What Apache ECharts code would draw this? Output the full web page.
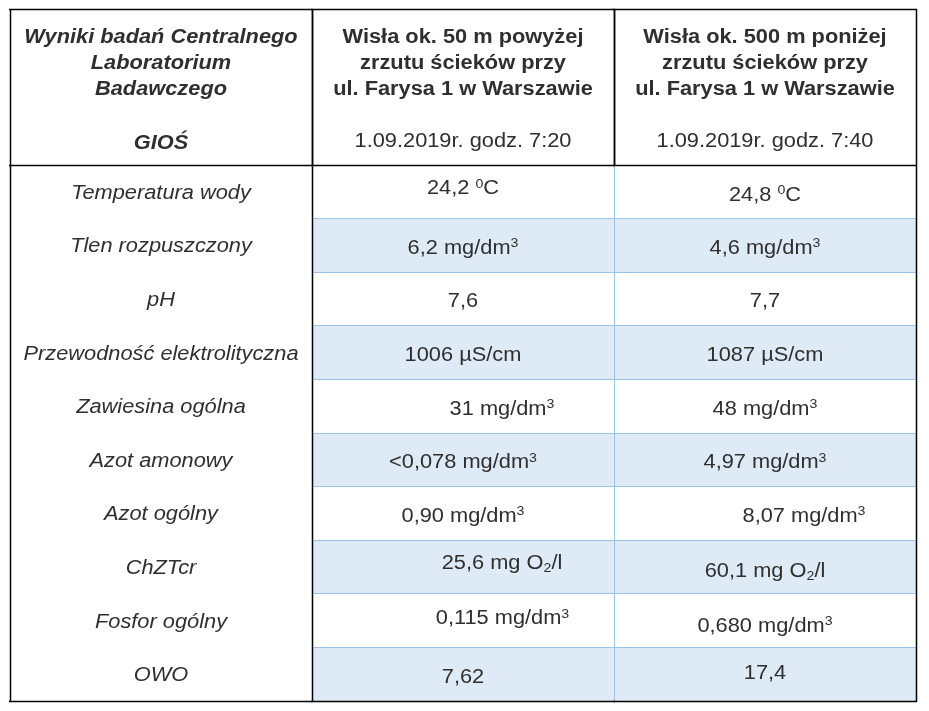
<!DOCTYPE html>
<html>
<head>
<meta charset="utf-8">
<script src="https://cdn.jsdelivr.net/npm/echarts@6.0.0/dist/echarts.min.js"></script>
<style>
html,body{margin:0;padding:0;background:#ffffff;}
#chart{width:929px;height:711px;}
</style>
</head>
<body>
<div id="chart"></div>
<script>
// ---------------- data ----------------
const columns = ['Parametr', 'Powyżej zrzutu', 'Poniżej zrzutu'];
const headerLines = [
  ['Wyniki badań Centralnego', 'Laboratorium', 'Badawczego', '', 'GIOŚ'],
  ['Wisła ok. 50 m powyżej', 'zrzutu ścieków przy', 'ul. Farysa 1 w Warszawie', '', '1.09.2019r. godz. 7:20'],
  ['Wisła ok. 500 m poniżej', 'zrzutu ścieków przy', 'ul. Farysa 1 w Warszawie', '', '1.09.2019r. godz. 7:40']
];
const parameters = ['Temperatura wody', 'Tlen rozpuszczony', 'pH', 'Przewodność elektrolityczna',
  'Zawiesina ogólna', 'Azot amonowy', 'Azot ogólny', 'ChZTcr', 'Fosfor ogólny', 'OWO'];
const units = ['degC', 'mgdm3', '', 'uScm', 'mgdm3', 'mgdm3', 'mgdm3', 'mgO2l', 'mgdm3', ''];
const upstreamValues = ['24,2', '6,2', '7,6', '1006', '31', '<0,078', '0,90', '25,6', '0,115', '7,62'];
const downstreamValues = ['24,8', '4,6', '7,7', '1087', '48', '4,97', '8,07', '60,1', '0,680', '17,4'];

// ---------------- layout / style (kept apart from data) ----------------
const upstreamNudge = [[0,-5.8],[0,0],[0,0],[0,0],[39,0],[0,0],[0,0],[39,-6],[39.5,-4.8],[0,0]];
const downstreamNudge = [[0,0.5],[0,0],[0,0],[0,0],[0,0],[0,0],[39,0],[0,2],[0,3],[0,-3.8]];
const FONT = 'Arial, "Liberation Sans", sans-serif';
const TEXT = '#2f2f2f';
const BLACK = '#000000';
const BLUE_LINE = '#9dc3e6';
const STRIPE = '#deeaf6';
const SX = 1.09;
const BLACK_W = 1.5;
const rich = {
  sup: {fontSize: 13, lineHeight: 17, verticalAlign: 'top', fontFamily: FONT, fill: TEXT},
  sub: {fontSize: 13, lineHeight: 17, verticalAlign: 'bottom', fontFamily: FONT, fill: TEXT}
};
const unitMarkup = {degC: ' {sup|0}C', mgdm3: ' mg/dm{sup|3}', uScm: ' µS/cm', mgO2l: ' mg O{sub|2}/l'};

function crisp(v) { return Math.floor(v) + 0.5; }
function seg(x1, y1, x2, y2, color, lw, z2) {
  return {type: 'line', shape: {x1: x1, y1: y1, x2: x2, y2: y2}, style: {stroke: color, lineWidth: lw}, z2: z2, silent: true};
}
function txt(x, y, text, opts) {
  return {
    type: 'text', x: x, y: y, scaleX: SX, z2: 5, silent: true,
    style: {
      text: text, x: 0, y: 0, align: 'center', verticalAlign: 'middle',
      fontFamily: FONT, fontSize: 20, lineHeight: 22,
      fontWeight: opts.bold ? 'bold' : 'normal',
      fontStyle: opts.italic ? 'italic' : 'normal',
      fill: TEXT, rich: rich
    }
  };
}
function cellBox(api, c, r) {
  const ctr = api.coord([c, r]);
  const sz = api.size([1, 1]);
  return {cx: ctr[0], cy: ctr[1], w: sz[0], h: sz[1],
    x0: ctr[0] - sz[0] / 2, x1: ctr[0] + sz[0] / 2, y0: ctr[1] - sz[1] / 2, y1: ctr[1] + sz[1] / 2};
}

function renderHeader(params, api) {
  const c = api.value(0);
  const b = cellBox(api, c, 0);
  const kids = [
    seg(b.x0 - 1, crisp(b.y0), b.x1 + 1, crisp(b.y0), BLACK, BLACK_W, 10),
    seg(b.x0 - 1, crisp(b.y1), b.x1 + 1, crisp(b.y1), BLACK, BLACK_W, 10),
    seg(crisp(b.x0), b.y0, crisp(b.x0), b.y1, BLACK, BLACK_W, 10),
    seg(crisp(b.x1), b.y0, crisp(b.x1), b.y1, BLACK, BLACK_W, 10)
  ];
  headerLines[c].forEach(function (line, i) {
    if (!line) return;
    let y = b.y0 + 28.5 + i * 26;
    if (c === 0 && i === 4) y += 1.5;
    kids.push(txt(b.cx, y, line, {bold: c === 0 || i < 3, italic: c === 0}));
  });
  return {type: 'group', children: kids};
}

function renderBody(params, api) {
  const c = api.value(0), r = api.value(1);
  const b = cellBox(api, c, r);
  const last = parameters.length - 1;
  const bodyBottom = b.y0 + b.h * (parameters.length - r);
  const kids = [];
  if (c > 0 && r % 2 === 1) {
    kids.push({type: 'rect', shape: {x: b.x0, y: b.y0, width: b.w, height: b.h}, style: {fill: STRIPE}, z2: 0, silent: true});
  }
  if (c > 0 && r < last) kids.push(seg(b.x0, crisp(b.y1), b.x1, crisp(b.y1), BLUE_LINE, 1, 1));
  if (r === 0) {
    if (c === 0) {
      kids.push(seg(crisp(b.x0), b.y0, crisp(b.x0), bodyBottom + 1, BLACK, BLACK_W, 10));
      kids.push(seg(crisp(b.x1), b.y0, crisp(b.x1), bodyBottom + 1, BLACK, BLACK_W, 10));
    }
    if (c === 1) kids.push(seg(crisp(b.x1), b.y0, crisp(b.x1), bodyBottom, BLUE_LINE, 1, 1));
    if (c === 2) kids.push(seg(crisp(b.x1), b.y0, crisp(b.x1), bodyBottom + 1, BLACK, BLACK_W, 10));
  }
  if (r === last) kids.push(seg(b.x0 - 1, crisp(b.y1), b.x1 + 1, crisp(b.y1), BLACK, BLACK_W, 10));

  if (c === 0) {
    kids.push(txt(b.cx, b.cy + 1.5, parameters[r], {italic: true}));
  } else {
    const vals = c === 1 ? upstreamValues : downstreamValues;
    const nudge = c === 1 ? upstreamNudge[r] : downstreamNudge[r];
    const text = vals[r] + (unitMarkup[units[r]] || '');
    kids.push(txt(b.cx + nudge[0], b.cy + 2.8 + nudge[1], text, {}));
  }
  return {type: 'group', children: kids};
}

const headerCells = columns.map(function (_, c) { return [c, 0]; });
const bodyCells = [];
parameters.forEach(function (_, r) { columns.forEach(function (_, c) { bodyCells.push([c, r]); }); });

const chart = echarts.init(document.getElementById('chart'), null, {renderer: 'canvas'});
chart.setOption({
  animation: false,
  backgroundColor: '#ffffff',
  grid: [
    {left: 10, right: 13, top: 9, height: 156},
    {left: 10, right: 13, top: 165, height: 536}
  ],
  xAxis: [
    {type: 'category', gridIndex: 0, data: columns, show: false},
    {type: 'category', gridIndex: 1, data: columns, show: false}
  ],
  yAxis: [
    {type: 'category', gridIndex: 0, data: ['Nagłówek'], show: false},
    {type: 'category', gridIndex: 1, data: parameters, inverse: true, show: false}
  ],
  series: [
    {type: 'custom', xAxisIndex: 0, yAxisIndex: 0, renderItem: renderHeader, data: headerCells, silent: true},
    {type: 'custom', xAxisIndex: 1, yAxisIndex: 1, renderItem: renderBody, data: bodyCells, silent: true}
  ]
});
</script>
</body>
</html>
